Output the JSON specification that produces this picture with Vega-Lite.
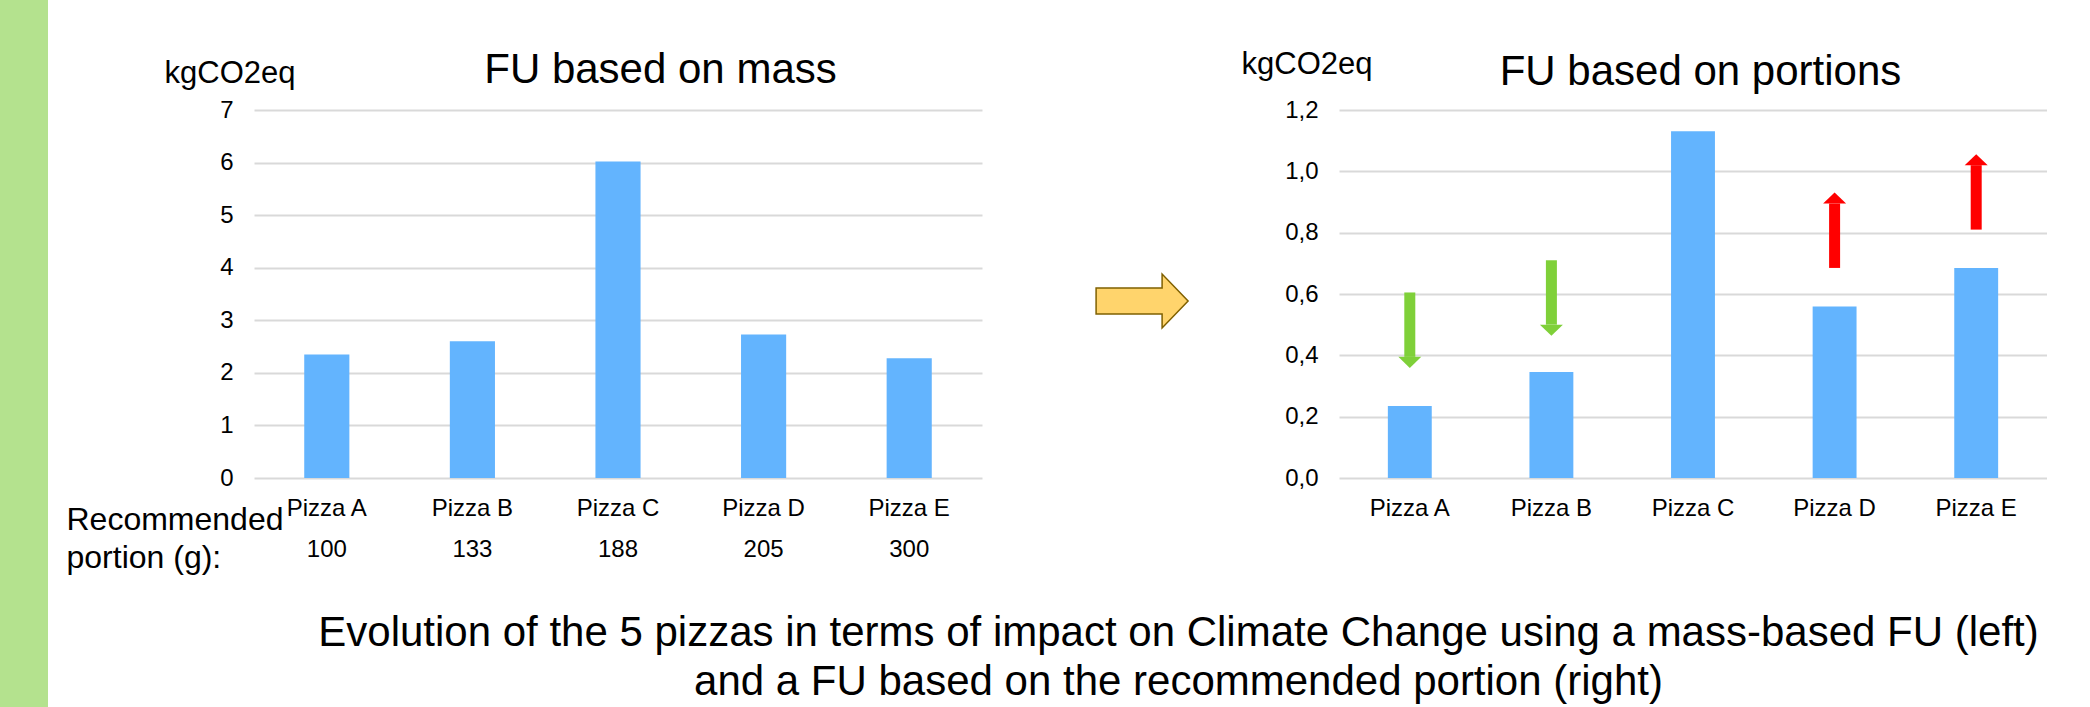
{
  "$schema": "https://vega.github.io/schema/vega-lite/v6.json",
  "padding": 0,
  "autosize": {"type": "pad"},
  "background": "#ffffff",
  "config": {
    "font": "Liberation Sans",
    "view": {"stroke": null},
    "axis": {
      "ticks": false,
      "tickSize": 0,
      "domain": false,
      "labelColor": "#000000",
      "titleColor": "#000000",
      "titleFontWeight": "normal",
      "labelFontSize": 24,
      "gridColor": "#D9D9D9",
      "gridWidth": 2
    },
    "title": {"fontWeight": "normal", "color": "#000000"}
  },
  "datasets": {
    "mass_based": [
      {"pizza": "Pizza A", "portion_g": 100, "kgco2eq_per_kg": 2.35},
      {"pizza": "Pizza B", "portion_g": 133, "kgco2eq_per_kg": 2.6},
      {"pizza": "Pizza C", "portion_g": 188, "kgco2eq_per_kg": 6.02},
      {"pizza": "Pizza D", "portion_g": 205, "kgco2eq_per_kg": 2.73},
      {"pizza": "Pizza E", "portion_g": 300, "kgco2eq_per_kg": 2.28}
    ],
    "portion_based": [
      {"pizza": "Pizza A", "kgco2eq_per_portion": 0.235},
      {"pizza": "Pizza B", "kgco2eq_per_portion": 0.346},
      {"pizza": "Pizza C", "kgco2eq_per_portion": 1.131},
      {"pizza": "Pizza D", "kgco2eq_per_portion": 0.559},
      {"pizza": "Pizza E", "kgco2eq_per_portion": 0.685}
    ],
    "change_arrows": [
      {"pizza": "Pizza A", "direction": "down", "arrow_start": 0.605, "arrow_end": 0.395},
      {"pizza": "Pizza B", "direction": "down", "arrow_start": 0.71, "arrow_end": 0.5},
      {"pizza": "Pizza D", "direction": "up", "arrow_start": 0.685, "arrow_end": 0.895},
      {"pizza": "Pizza E", "direction": "up", "arrow_start": 0.81, "arrow_end": 1.02}
    ],
    "transition": [{"from": "FU based on mass", "to": "FU based on portions"}],
    "decor": [{"element": "side band"}]
  },
  "spacing": 18,
  "hconcat": [
    {
      "width": 48,
      "height": 707,
      "view": {"fill": "#B4E28E", "stroke": null},
      "data": {"name": "decor"},
      "mark": {"type": "text", "text": ""},
      "encoding": {}
    },
    {
      "spacing": 0,
      "title": {
        "text": [
          "Evolution of the 5 pizzas in terms of impact on Climate Change using a mass-based FU (left)",
          "and a FU based on the recommended portion (right)"
        ],
        "orient": "bottom",
        "anchor": "middle",
        "dx": 122,
        "offset": 40,
        "fontSize": 42,
        "lineHeight": 49,
        "baseline": "top",
        "fontWeight": "normal",
        "color": "#000000"
      },
      "vconcat": [
        {
          "width": 1,
          "height": 48,
          "data": {"name": "decor"},
          "mark": {"type": "text", "text": ""},
          "encoding": {}
        },
        {
          "spacing": 20,
          "hconcat": [
            {
              "width": 728,
              "height": 368,
              "data": {"name": "mass_based"},
              "resolve": {"scale": {"x": "independent"}, "axis": {"x": "independent"}},
              "layer": [
                {
                  "mark": {"type": "bar", "color": "#63B4FE"},
                  "encoding": {
                    "x": {
                      "field": "pizza",
                      "type": "nominal",
                      "scale": {"paddingInner": 0.69, "paddingOuter": 0.345},
                      "axis": {
                        "orient": "bottom",
                        "labelAngle": 0,
                        "labelPadding": 18,
                        "labelFontSize": 24,
                        "title": "FU based on mass",
                        "titleFontSize": 42,
                        "titleX": 406,
                        "titleY": -396,
                        "titleAlign": "center",
                        "titleBaseline": "alphabetic"
                      }
                    },
                    "y": {
                      "field": "kgco2eq_per_kg",
                      "type": "quantitative",
                      "scale": {"domain": [0, 7]},
                      "axis": {
                        "values": [0, 1, 2, 3, 4, 5, 6, 7],
                        "format": "d",
                        "grid": true,
                        "labelPadding": 21,
                        "labelFontSize": 24,
                        "title": "kgCO2eq",
                        "titleAngle": 0,
                        "titleAlign": "left",
                        "titleBaseline": "alphabetic",
                        "titleX": -90,
                        "titleY": -28,
                        "titleFontSize": 31
                      }
                    }
                  }
                },
                {
                  "mark": {"type": "bar", "opacity": 0},
                  "encoding": {
                    "x": {
                      "field": "portion_g",
                      "type": "nominal",
                      "scale": {"paddingInner": 0.69, "paddingOuter": 0.345},
                      "axis": {
                        "orient": "bottom",
                        "labelAngle": 0,
                        "labelPadding": 59,
                        "labelFontSize": 24,
                        "title": ["Recommended", "portion (g):"],
                        "titleFontSize": 32,
                        "titleLineHeight": 38,
                        "titleX": -188,
                        "titleY": 51,
                        "titleAlign": "left",
                        "titleBaseline": "alphabetic"
                      }
                    },
                    "y": {"field": "kgco2eq_per_kg", "type": "quantitative"}
                  }
                }
              ]
            },
            {
              "width": 219,
              "height": 382,
              "data": {"name": "transition"},
              "mark": {
                "type": "point",
                "shape": "M-0.335,-0.283L1.1,-0.283L1.1,-0.587L1.665,0L1.1,0.587L1.1,0.283L-0.335,0.283Z",
                "size": 8464,
                "filled": true,
                "fill": "#FFD46C",
                "stroke": "#7F6000",
                "strokeWidth": 1.5,
                "opacity": 1
              },
              "encoding": {}
            },
            {
              "width": 708,
              "height": 368,
              "layer": [
                {
                  "data": {"name": "portion_based"},
                  "mark": {"type": "bar", "color": "#63B4FE"},
                  "encoding": {
                    "x": {
                      "field": "pizza",
                      "type": "nominal",
                      "scale": {"paddingInner": 0.69, "paddingOuter": 0.345},
                      "axis": {
                        "orient": "bottom",
                        "labelAngle": 0,
                        "labelPadding": 18,
                        "labelFontSize": 24,
                        "title": "FU based on portions",
                        "titleFontSize": 42,
                        "titleX": 361,
                        "titleY": -394,
                        "titleAlign": "center",
                        "titleBaseline": "alphabetic"
                      }
                    },
                    "y": {
                      "field": "kgco2eq_per_portion",
                      "type": "quantitative",
                      "scale": {"domain": [0, 1.2]},
                      "axis": {
                        "values": [0, 0.2, 0.4, 0.6, 0.8, 1.0, 1.2],
                        "labelExpr": "replace(format(datum.value, '.1f'), '.', ',')",
                        "grid": true,
                        "labelPadding": 21,
                        "labelFontSize": 24,
                        "title": "kgCO2eq",
                        "titleAngle": 0,
                        "titleAlign": "left",
                        "titleBaseline": "alphabetic",
                        "titleX": -98,
                        "titleY": -37,
                        "titleFontSize": 31
                      }
                    }
                  }
                },
                {
                  "data": {"name": "change_arrows"},
                  "mark": {"type": "rule", "strokeWidth": 11, "strokeCap": "butt"},
                  "encoding": {
                    "x": {"field": "pizza", "type": "nominal"},
                    "y": {"field": "arrow_start", "type": "quantitative"},
                    "y2": {"field": "arrow_end"},
                    "color": {
                      "field": "direction",
                      "type": "nominal",
                      "scale": {"domain": ["down", "up"], "range": ["#7FD039", "#FF0000"]},
                      "legend": null
                    }
                  }
                },
                {
                  "data": {"name": "change_arrows"},
                  "mark": {"type": "point", "filled": true, "size": 529, "opacity": 1, "strokeWidth": 0},
                  "encoding": {
                    "x": {"field": "pizza", "type": "nominal"},
                    "y": {"field": "arrow_end", "type": "quantitative"},
                    "shape": {
                      "field": "direction",
                      "type": "nominal",
                      "scale": {"domain": ["down", "up"], "range": ["M-1,0L1,0L0,0.96Z", "M-1,0L1,0L0,-0.96Z"]},
                      "legend": null
                    },
                    "color": {
                      "field": "direction",
                      "type": "nominal",
                      "scale": {"domain": ["down", "up"], "range": ["#7FD039", "#FF0000"]},
                      "legend": null
                    }
                  }
                }
              ]
            }
          ]
        }
      ]
    }
  ]
}
